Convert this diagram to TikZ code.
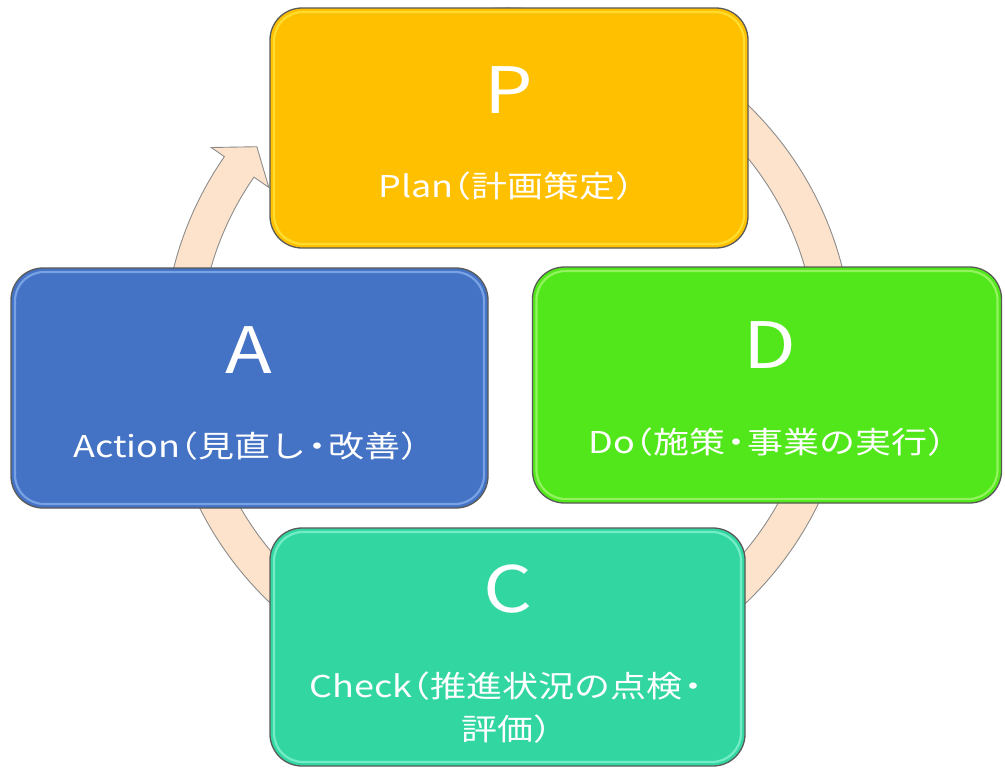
\documentclass[tikz,border=0pt]{standalone}
\usepackage{fontspec}
\newfontfamily\jp[FakeStretch=1.2]{Noto Sans CJK JP}
\definecolor{pfill}{HTML}{FFC000}
\definecolor{plite}{HTML}{FFE43C}
\definecolor{afill}{HTML}{4472C4}
\definecolor{alite}{HTML}{86AEEC}
\definecolor{dfill}{HTML}{52E71A}
\definecolor{dlite}{HTML}{A2F771}
\definecolor{cfill}{HTML}{31D6A0}
\definecolor{clite}{HTML}{86F2D2}
\definecolor{ringfill}{HTML}{FDE3CB}
\definecolor{ringline}{HTML}{8C8C8C}
\definecolor{boxline}{HTML}{595959}
\newcommand\lpar{{\addfontfeature{RawFeature=+halt}（}}
\newcommand\rpar{{\addfontfeature{RawFeature=+halt}）}}
\newcommand\mdot{\hspace{0.07em}{\addfontfeature{RawFeature=+halt}・}\hspace{0.07em}}
\begin{document}
\begin{tikzpicture}[x=1pt,y=-1pt,
  pdcabox/.style={rounded corners=32pt, draw=boxline, line width=1.3pt, inner sep=0pt},
  pdcalite/.style={rounded corners=29pt, line width=2.2pt, inner sep=0pt, opacity=0.8},
  bigletter/.style={text=white, font=\jp\fontsize{64}{70}\selectfont, inner sep=0pt, anchor=base},
  subtext/.style={text=white, font=\jp\fontsize{30}{36}\selectfont, inner sep=0pt, anchor=base}]
\useasboundingbox (0,0) rectangle (1005,769);
% ring arrow
\begin{scope}[shift={(508,353)}]
\filldraw[fill=ringfill, draw=ringline, line width=0.9pt, line join=miter]
  (-460:345) arc[start angle=-460, end angle=-145.3, radius=345]
  -- (-145.3:361) -- (-140.6:325) -- (-145.3:291) -- (-145.3:309)
  arc[start angle=-145.3, end angle=-460, radius=309] -- cycle;
\end{scope}
% boxes
\node[pdcabox, fill=pfill, minimum width=478pt, minimum height=240pt] (P) at (509,128) {};
\node[pdcalite, draw=plite, minimum width=470pt, minimum height=232pt] (Pin) at (P.center) {};
\node[pdcabox, fill=afill, minimum width=477pt, minimum height=240pt] (A) at (249.5,388) {};
\node[pdcalite, draw=alite, minimum width=469pt, minimum height=232pt] (Ain) at (A.center) {};
\node[pdcabox, fill=dfill, minimum width=469pt, minimum height=236pt] (D) at (767,385) {};
\node[pdcalite, draw=dlite, minimum width=461pt, minimum height=228pt] (Din) at (D.center) {};
\node[pdcabox, fill=cfill, minimum width=475pt, minimum height=238pt] (C) at (507.5,647) {};
\node[pdcalite, draw=clite, minimum width=467pt, minimum height=230pt] (Cin) at (C.center) {};
% texts
\node[bigletter] (Pl) at (509,113) {P};
\node[subtext] (Ps) at (506,197) {Plan\lpar 計画策定\rpar};
\node[bigletter] (Al) at (249,373) {A};
\node[subtext] (As) at (246,457) {Action\lpar 見直し\mdot 改善\rpar};
\node[bigletter] (Dl) at (770,368) {D};
\node[subtext] (Ds) at (767,453) {Do\lpar 施策\mdot 事業の実行\rpar};
\node[bigletter] (Cl) at (508,612) {C};
\node[subtext] (Cs1) at (506,697) {Check\lpar 推進状況の点検\mdot};
\node[subtext] (Cs2) at (506,740) {評価\rpar};
\end{tikzpicture}
\end{document}
